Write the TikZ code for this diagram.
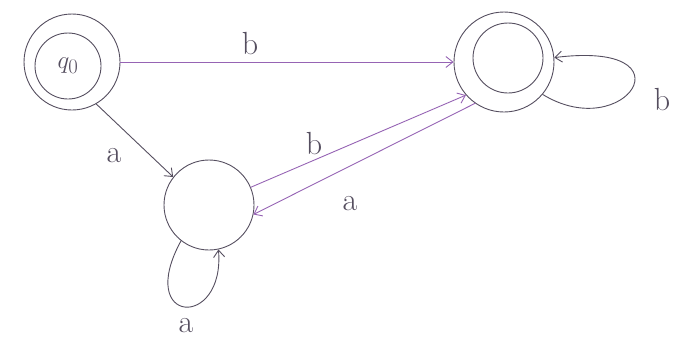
\documentclass[tikz,border=0pt]{standalone}
\usetikzlibrary{arrows.meta}
\definecolor{pen}{RGB}{85,78,95}
\definecolor{ink}{RGB}{150,100,180}
\begin{document}
\begin{tikzpicture}[x=1pt,y=-1pt,line cap=round,line join=round,
  >={Straight Barb[length=7pt,width=11pt]},
  ring/.style={circle,draw=pen,line width=.9pt,inner sep=0pt},
  edge/.style={->,draw=ink,line width=.9pt},
  lbl/.style={text=pen,font=\fontsize{32}{34}\selectfont}]
\useasboundingbox (0,0) rectangle (690,351);
% states
\node[ring,minimum size=96pt] (q0) at (72,62) {};
\node[ring,minimum size=66pt,font=\fontsize{28}{30}\selectfont,text=pen] (q0in) at (68,66) {$q_0$};
\node[ring,minimum size=100pt] (qf) at (504,62) {};
\node[ring,minimum size=70pt] (qfin) at (508,58) {};
\node[ring,minimum size=90pt] (q1) at (209,205) {};
% transitions
\draw[edge] (q0) -- (qf);
\draw[edge,draw=pen] (q0.-60) -- (q1.142);
\draw[edge] (q1.23) -- (qf.221);
\draw[edge] (qf.235) -- (q1.-12);
\draw[edge,draw=pen] (qf.-40) .. controls (625,145) and (695,40) .. (qf.5);
\draw[edge,draw=pen] (q1.232) .. controls (135,325) and (225,330) .. (q1.-78);
% labels
\node[lbl] at (250,44) {b};
\node[lbl] at (114,156) {a};
\node[lbl] at (314,144) {b};
\node[lbl] at (350,204) {a};
\node[lbl] at (186,326) {a};
\node[lbl] at (662,100) {b};
\end{tikzpicture}
\end{document}
